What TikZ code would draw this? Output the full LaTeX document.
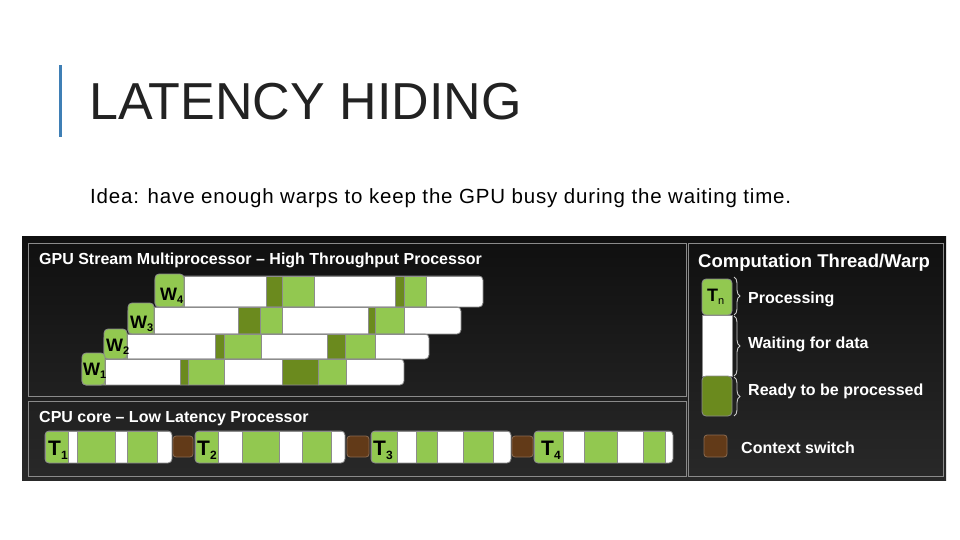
\documentclass[tikz,border=0pt]{standalone}
\usepackage{fontspec}
\setmainfont{Liberation Sans}
\usetikzlibrary{decorations.pathreplacing}
\definecolor{lg}{HTML}{92C850}
\definecolor{dg}{HTML}{6B8A1E}
\definecolor{br}{HTML}{623A18}
\definecolor{brline}{HTML}{8A6A50}
\definecolor{segline}{HTML}{8C8C8C}
\definecolor{panelline}{HTML}{8A8A8A}
\definecolor{titlebar}{HTML}{3F7FB5}
\definecolor{titletext}{HTML}{222222}
\newcommand{\mkrow}[5]{%
  \begin{scope}
    \clip[rounded corners=4pt] (#1,#3) rectangle (#2,#4);
    \foreach \xa/\xb/\cc in {#5} {\fill[fill=\cc, draw=segline, line width=0.5pt] (\xa,#3) rectangle (\xb,#4);}
  \end{scope}
  \draw[segline, line width=0.8pt, rounded corners=4pt] (#1,#3) rectangle (#2,#4);}
\newcommand{\wsub}[1]{\raisebox{-3pt}{\fontsize{11}{11}\selectfont #1}}
\newcommand{\tsub}[1]{\raisebox{-4pt}{\fontsize{12}{12}\selectfont #1}}
\begin{document}
\begin{tikzpicture}[x=1pt,y=-1pt,
  whitelbl/.style={inner sep=0pt, anchor=base west, text=white, font=\bfseries\fontsize{16}{16}\selectfont},
  wlab/.style={inner sep=0pt, anchor=base west, text=black, font=\bfseries\fontsize{18}{18}\selectfont},
  tlab/.style={inner sep=0pt, anchor=base west, text=black, font=\bfseries\fontsize{21}{21}\selectfont},
  labelbox/.style={fill=lg, draw=segline, line width=0.8pt, rounded corners=4pt},
  switchbox/.style={fill=br, draw=brline, line width=0.8pt, rounded corners=3pt},
  panel/.style={draw=panelline, line width=0.8pt},
  bracestyle/.style={draw=black!20, line width=0.9pt, decorate, decoration={brace, amplitude=6pt}}]
\useasboundingbox (0,0) rectangle (960,540);
\fill[white] (0,0) rectangle (960,540);
% title
\fill[titlebar] (59,65) rectangle (62,137);
\node[anchor=base west, inner sep=0pt, text=titletext, font=\fontsize{52}{52}\selectfont] (title) at (89,120) {LATENCY HIDING};
\node[anchor=base west, inner sep=0pt, text=black, font=\fontsize{20.5}{20.5}\selectfont\addfontfeature{LetterSpace=4}] (idea) at (90,203) {Idea: have enough warps to keep the GPU busy during the waiting time.};
% dark background
\shade[top color=black!94, bottom color=black!84] (22,236) rectangle (946,480);
\draw[panel] (28,243) rectangle (686,396);
\draw[panel] (28,401) rectangle (686,476);
\draw[panel] (688,243) rectangle (943,476);
% GPU
\node[whitelbl] (gputitle) at (39,264) {GPU Stream Multiprocessor – High Throughput Processor};
\mkrow{155}{483}{276}{307}{155/184/lg, 184/266/white, 266/282/dg, 282/314/lg, 314/395/white, 395/404/dg, 404/426/lg, 426/483/white}
\draw[labelbox] (155,274) rectangle (184,307);
\node[wlab] (w4) at (160,300) {W\wsub{4}};
\mkrow{128}{461}{307}{334}{128/154/lg, 154/238/white, 238/260/dg, 260/282/lg, 282/368/white, 368/375/dg, 375/404/lg, 404/461/white}
\draw[labelbox] (128,303) rectangle (154,334);
\node[wlab] (w3) at (130,328) {W\wsub{3}};
\mkrow{104}{429}{334}{359}{104/127/lg, 127/215/white, 215/224/dg, 224/261/lg, 261/327/white, 327/345/dg, 345/375/lg, 375/429/white}
\draw[labelbox] (104,329) rectangle (127,359);
\node[wlab] (w2) at (106,351) {W\wsub{2}};
\mkrow{82}{404}{359}{385}{82/105/lg, 105/180/white, 180/188/dg, 188/224/lg, 224/282/white, 282/318/dg, 318/346/lg, 346/404/white}
\draw[labelbox] (82,353) rectangle (105,385);
\node[wlab] (w1) at (83,375) {W\wsub{1}};
% CPU
\node[whitelbl] (cputitle) at (39,422) {CPU core – Low Latency Processor};
\mkrow{45}{172}{431}{463}{45/68/lg, 68/77/white, 77/115/lg, 115/127/white, 127/157/lg, 157/172/white}
\node[tlab] (t1) at (48,455) {T\tsub{1}};
\draw[switchbox] (173,436) rectangle (193,457);
\mkrow{195}{345}{431}{463}{195/218/lg, 218/242/white, 242/279/lg, 279/302/white, 302/331/lg, 331/345/white}
\node[tlab] (t2) at (197,455) {T\tsub{2}};
\draw[switchbox] (347,436) rectangle (369,457);
\mkrow{371}{511}{431}{463}{371/397/lg, 397/416/white, 416/437/lg, 437/463/white, 463/493/lg, 493/511/white}
\node[tlab] (t3) at (373,455) {T\tsub{3}};
\draw[switchbox] (512,436) rectangle (533,457);
\mkrow{534}{673}{431}{463}{534/563/lg, 563/584/white, 584/617/lg, 617/643/white, 643/665/lg, 665/673/white}
\node[tlab] (t4) at (541,455) {T\tsub{4}};
% legend
\node[inner sep=0pt, anchor=base west, text=white, font=\bfseries\fontsize{18.5}{18.5}\selectfont] (legtitle) at (698,267) {Computation Thread/Warp};
\draw[labelbox] (702,279) rectangle (732,315);
\fill[white, draw=segline, line width=0.8pt] (702,315) rectangle (732,376);
\draw[fill=dg, draw=segline, line width=0.8pt, rounded corners=4pt] (702,376) rectangle (732,416);
\node[inner sep=0pt, anchor=base west, text=black, font=\bfseries\fontsize{18}{18}\selectfont] (tn) at (707,301) {T\raisebox{-3pt}{\fontsize{11}{11}\selectfont\mdseries n}};
\draw[bracestyle] (734,277) -- (734,315);
\draw[bracestyle] (734,316) -- (734,376);
\draw[bracestyle] (734,377) -- (734,416);
\node[whitelbl] (proc) at (748,303) {Processing};
\node[whitelbl] (wait) at (748,348) {Waiting for data};
\node[whitelbl] (ready) at (748,395) {Ready to be processed};
\draw[switchbox] (704,435) rectangle (727,457);
\node[whitelbl] (ctx) at (741,453) {Context switch};
\end{tikzpicture}
\end{document}
